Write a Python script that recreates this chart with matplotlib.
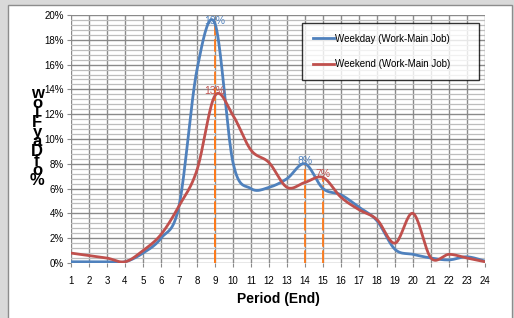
import numpy as np
import matplotlib.pyplot as plt
from matplotlib.patches import Rectangle
from matplotlib.ticker import MultipleLocator, PercentFormatter

# periods (end hour) and share of daily flow, in %
periods = list(range(1, 25))
weekday = [0.1, 0.1, 0.1, 0.1, 0.8, 2.0, 4.6, 15.6, 19.3, 8.1, 6.0, 6.1,
           6.8, 8.0, 6.0, 5.5, 4.5, 3.4, 1.1, 0.7, 0.4, 0.25, 0.5, 0.15]
weekend = [0.8, 0.6, 0.4, 0.1, 1.0, 2.3, 4.6, 7.5, 13.5, 11.9, 9.1, 8.1,
           6.1, 6.5, 6.9, 5.3, 4.3, 3.5, 1.6, 4.0, 0.4, 0.7, 0.4, 0.1]
peaks = [(9, 19.3, "19%", "#4F81BD"), (9, 13.6, "13%", "#C0504D"),
         (14, 8.0, "8%", "#4F81BD"), (15, 6.9, "7%", "#C0504D")]


def smooth(x, y, n=20):
    # catmull-rom curve through the points (like Excel's smoothed line)
    x = np.asarray(x, float)
    y = np.asarray(y, float)
    px = np.concatenate([[x[0]], x, [x[-1]]])
    py = np.concatenate([[y[0]], y, [y[-1]]])
    xs, ys = [], []
    t = np.linspace(0, 1, n, endpoint=False)
    for i in range(1, len(px) - 2):
        for p, out in ((px, xs), (py, ys)):
            p0, p1, p2, p3 = p[i - 1], p[i], p[i + 1], p[i + 2]
            out.extend(0.5 * (2 * p1 + (-p0 + p2) * t
                              + (2 * p0 - 5 * p1 + 4 * p2 - p3) * t ** 2
                              + (-p0 + 3 * p1 - 3 * p2 + p3) * t ** 3))
    xs.append(x[-1])
    ys.append(y[-1])
    return xs, ys


plt.rcParams['font.family'] = ['Liberation Sans', 'DejaVu Sans']

fig = plt.figure(figsize=(5.14, 3.18), dpi=100, facecolor="#d9d9d9")
fig.patches.append(Rectangle((8 / 514, -0.01), 504 / 514, 1 - 5 / 318 + 0.01,
                             transform=fig.transFigure, facecolor="white",
                             edgecolor="#8c8c8c", lw=1, zorder=-10))
ax = fig.add_axes([71 / 514, 55 / 318, 414 / 514, 248 / 318])

ax.plot(*smooth(periods, weekday), color="#4F81BD", lw=2,
        label="Weekday (Work-Main Job)", zorder=4)
ax.plot(*smooth(periods, weekend), color="#C0504D", lw=2,
        label="Weekend (Work-Main Job)", zorder=4)

for x, y, txt, c in peaks:
    ax.vlines(x, 0, y, color="#FF7A1A", lw=1.3, linestyles=(0, (7, 2)), zorder=3)
    ax.text(x, y - 0.15, txt, color=c, fontsize=7.5, ha="center", va="bottom", zorder=5)

ax.set_xlim(1, 24)
ax.set_ylim(0, 20)
ax.xaxis.set_major_locator(MultipleLocator(1))
ax.yaxis.set_major_locator(MultipleLocator(2))
ax.yaxis.set_minor_locator(MultipleLocator(0.4))
ax.yaxis.set_major_formatter(PercentFormatter(decimals=0))
ax.grid(which="major", color="#8a8a8a", lw=1)
ax.grid(which="minor", axis="y", color="#bdbdbd", lw=0.9)
ax.set_axisbelow(True)
for s in ax.spines.values():
    s.set_visible(False)
ax.tick_params(which="major", labelsize=7, length=3, color="#8a8a8a", pad=2)
ax.tick_params(which="minor", length=0)
ax.tick_params(axis="x", pad=6)

ax.set_xlabel("Period (End)", fontsize=10, fontweight="bold", labelpad=5)
fig.text(37 / 514, 1 - 137 / 318, "\n".join(list("wolFyaDfo%")), fontsize=12,
         fontweight="bold", ha="center", va="center", linespacing=0.55)

leg = ax.legend(loc="upper left", bbox_to_anchor=(0.558, 0.968, 0.428, 0.0),
                mode="expand", fontsize=7, frameon=True, fancybox=False,
                edgecolor="black", handlelength=2.2, handletextpad=0.05,
                labelspacing=1.6, borderpad=1.1, borderaxespad=0, handleheight=0.8)
leg.get_frame().set_linewidth(1)

fig.savefig("out.png", dpi=100, facecolor=fig.get_facecolor())
